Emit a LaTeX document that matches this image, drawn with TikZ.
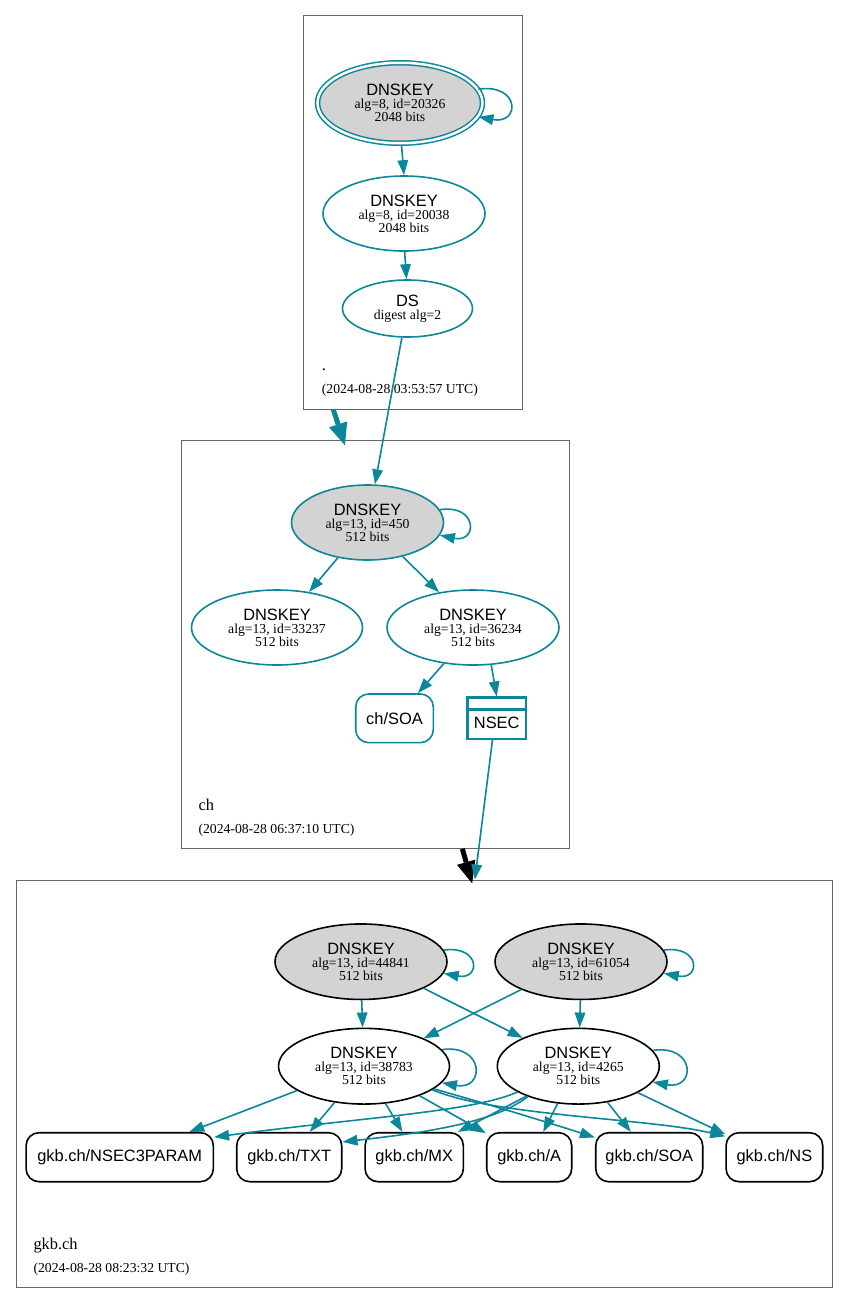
\documentclass[tikz,border=0pt]{standalone}
\usepackage{fontspec}
\setmainfont{Liberation Serif}
\newfontfamily\sansf{Liberation Sans}
\usetikzlibrary{arrows.meta,shapes.geometric,calc}
\definecolor{teal1}{HTML}{0A879A}
\definecolor{lgray}{HTML}{D3D3D3}
\definecolor{clgray}{HTML}{666666}
\newcommand{\dnskeylabel}[2]{{\sansf\fontsize{16.4}{13.5}\selectfont DNSKEY}\\#1\\#2}
\begin{document}
\begin{tikzpicture}[x=1pt,y=-1pt,
 cluster/.style={draw=clgray, line width=0.9pt, rectangle, inner sep=0pt},
 key/.style={ellipse, draw=teal1, line width=1.6pt, inner sep=-20pt, align=center, font=\fontsize{13.7}{13}\selectfont},
 ksk/.style={key, fill=lgray},
 bkey/.style={key, draw=black},
 rr/.style={rectangle, rounded corners=13pt, draw=black, line width=1.6pt, inner sep=0pt, minimum height=49pt, font=\sansf\fontsize{16.4}{18}\selectfont},
 conn/.style={draw=teal1, line width=1.6pt, -{Triangle[length=15pt,width=10.5pt]}},
 clname/.style={anchor=base west, inner sep=0pt, font=\fontsize{16.4}{18}\selectfont},
 cldate/.style={anchor=base west, inner sep=0pt, font=\fontsize{13.7}{15}\selectfont},
 bigarrow/.style={line width=5pt, -{Triangle[length=22pt,width=19pt,line width=0pt]}},
]
\fill[white] (0,0) rectangle (849,1304);
\useasboundingbox (0,0) rectangle (849,1304);

% clusters
\node[cluster, minimum width=219.4pt, minimum height=393.7pt] (clTop) at (413,212.2) {};
\node[cluster, minimum width=387.6pt, minimum height=408.3pt] (clCh) at (375.5,644.2) {};
\node[cluster, minimum width=816pt, minimum height=407pt] (clGkb) at (424,1083.5) {};

% top cluster
\node[ksk, double=white, double distance=2.5pt, line width=1.5pt, minimum width=165pt, minimum height=80.5pt] (k20326) at (400,103) {\dnskeylabel{alg=8, id=20326}{2048 bits}};
\node[key, minimum width=162pt, minimum height=75pt] (k20038) at (404,213.5) {\dnskeylabel{alg=8, id=20038}{2048 bits}};
\node[key, minimum width=130pt, minimum height=57pt] (ds) at (407.5,308.5) {{\sansf\fontsize{16.4}{13}\selectfont DS}\\digest alg=2};
\node[clname] (clTopName) at (321.7,370) {.};
\node[cldate] (clTopDate) at (321.7,393.3) {(2024-08-28 03:53:57 UTC)};

% ch cluster
\node[ksk, minimum width=152pt, minimum height=75pt] (k450) at (367.5,522.5) {\dnskeylabel{alg=13, id=450}{512 bits}};
\node[key, minimum width=171pt, minimum height=75pt] (k33237) at (277,627.5) {\dnskeylabel{alg=13, id=33237}{512 bits}};
\node[key, minimum width=172pt, minimum height=75pt] (k36234) at (473,627.5) {\dnskeylabel{alg=13, id=36234}{512 bits}};
\node[rr, draw=teal1, minimum width=77.6pt, minimum height=48.7pt] (chsoa) at (394.5,718.3) {ch/SOA};
\node[rectangle, draw=teal1, line width=2.4pt, minimum width=58.7pt, minimum height=41.3pt, inner sep=0pt] (nsec) at (496.7,718.3) {};
\draw[teal1, line width=2.4pt] ($(nsec.north west)!0.298!(nsec.south west)$) -- ($(nsec.north east)!0.298!(nsec.south east)$);
\node[inner sep=0pt, font=\sansf\fontsize{16.4}{18}\selectfont] (nsectext) at (496.7,722.7) {NSEC};
\node[clname] (clChName) at (198.3,810.7) {ch};
\node[cldate] (clChDate) at (198.3,833.3) {(2024-08-28 06:37:10 UTC)};

% gkb.ch cluster
\node[bkey, fill=lgray, minimum width=172pt, minimum height=75.5pt] (k44841) at (361,961.7) {\dnskeylabel{alg=13, id=44841}{512 bits}};
\node[bkey, fill=lgray, minimum width=172pt, minimum height=75.5pt] (k61054) at (581,961.7) {\dnskeylabel{alg=13, id=61054}{512 bits}};
\node[bkey, minimum width=171pt, minimum height=75.7pt] (k38783) at (364,1066.2) {\dnskeylabel{alg=13, id=38783}{512 bits}};
\node[bkey, minimum width=162pt, minimum height=75.7pt] (k4265) at (578.3,1066.2) {\dnskeylabel{alg=13, id=4265}{512 bits}};
\node[rr, minimum width=187.3pt] (nsec3param) at (119.7,1157.2) {gkb.ch/NSEC3PARAM};
\node[rr, minimum width=105pt] (txt) at (289.2,1157.2) {gkb.ch/TXT};
\node[rr, minimum width=98.3pt] (mx) at (414.2,1157.2) {gkb.ch/MX};
\node[rr, minimum width=85pt] (arec) at (529.2,1157.2) {gkb.ch/A};
\node[rr, minimum width=107pt] (soa) at (649.2,1157.2) {gkb.ch/SOA};
\node[rr, minimum width=96.7pt] (ns) at (774.4,1157.2) {gkb.ch/NS};
\node[clname] (clGkbName) at (33.3,1249.3) {gkb.ch};
\node[cldate] (clGkbDate) at (33.3,1272) {(2024-08-28 08:23:32 UTC)};

% top edges
\draw[conn, shorten <=2pt] (k20326.-88) -- (k20038.90);
\draw[conn] (k20326.10) .. controls ($(k20326.10)+(42,-6)$) and ($(k20326.-10)+(42,8)$) .. (k20326.-10);
\draw[conn] (k20038.-89) -- (ds.92);
\draw[conn] (ds.-101) -- (k450.79);

% inter-cluster arrows
\draw[teal1, bigarrow, shorten >=-6pt] (clTop.-112.4) -- (clCh.99.05);
\draw[black, bigarrow, shorten >=-4pt] (clCh.-67) -- (clGkb.77);

% ch edges
\draw[conn] (k450.10) .. controls ($(k450.10)+(38,-6)$) and ($(k450.-10)+(38,8)$) .. (k450.-10);
\draw[conn] (k450.-130.7) -- (k33237.48.8);
\draw[conn] (k450.-44.2) -- (k36234.134.9);
\draw[conn] (k36234.-129.8) -- (chsoa.47.3);
\draw[conn] (k36234.-64.4) -- (nsec.north);
\draw[conn] (nsec.-101) -- (clGkb.76.7);

% gkb.ch edges
\draw[conn] (k44841.-89) -- (k38783.92);
\draw[conn] (k61054.-91) -- (k4265.88.7);
\draw[conn] (k44841.-23.7) -- (k4265.153.9);
\draw[conn] (k61054.205.5) -- (k38783.25.7);
\draw[conn] (k44841.8) .. controls ($(k44841.8)+(37,-5)$) and ($(k44841.-8)+(37,7)$) .. (k44841.-8);
\draw[conn] (k61054.8) .. controls ($(k61054.8)+(37,-5)$) and ($(k61054.-8)+(37,7)$) .. (k61054.-8);
\draw[conn] (k38783.12) .. controls ($(k38783.12)+(43,-6)$) and ($(k38783.-12)+(43,8)$) .. (k38783.-12);
\draw[conn] (k4265.12) .. controls ($(k4265.12)+(43,-6)$) and ($(k4265.-12)+(43,8)$) .. (k4265.-12);

\draw[conn] (k38783.200.9) -- (nsec3param.20.6);
\draw[conn] (k38783.231.2) -- (txt.51.4);
\draw[conn] (k38783.-60.5) -- (mx.115.4);
\draw[conn] (k38783.-28.6) -- (arec.151.5);
\draw[conn] (k38783.-18) .. controls ($(k38783.-18)+(50,14)$) and ($(soa.160.4)+(-50,-16)$) .. (soa.160.4);
\draw[conn] (k38783.-19.3) .. controls ($(k38783.-19.3)+(60,26)$) and ($(ns.157.6)+(-75,-18)$) .. (ns.157.6);

\draw[conn] (k4265.203.8) .. controls ($(k4265.203.8)+(-45,20)$) and ($(nsec3param.12.2)+(150,-20)$) .. (nsec3param.12.2);
\draw[conn] (k4265.211.4) .. controls ($(k4265.211.4)+(-35,28)$) and ($(txt.16.7)+(70,-8)$) .. (txt.16.7);
\draw[conn] (k4265.210) -- (mx.30.4);
\draw[conn] (k4265.241.7) -- (arec.61.7);
\draw[conn] (k4265.-51.8) -- (soa.126.2);
\draw[conn] (k4265.-24.9) -- (ns.155.8);
\end{tikzpicture}
\end{document}
